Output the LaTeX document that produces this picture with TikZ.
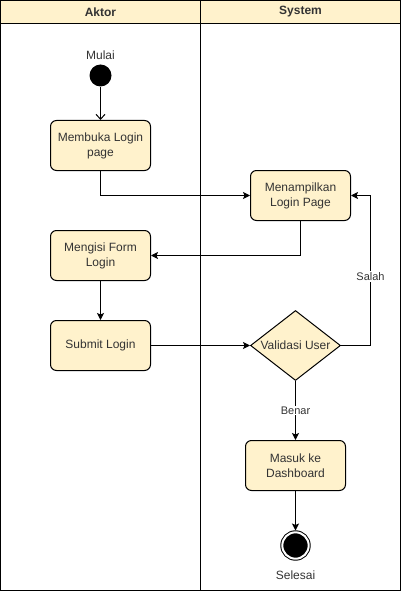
\documentclass[tikz,border=0pt]{standalone}
\usepackage{fontspec}
\setmainfont{Liberation Sans}
\usepackage{tikz}
\usetikzlibrary{arrows.meta,shapes.geometric}
\usepackage{xcolor}
\definecolor{LaneYellow}{HTML}{FFF2CC}
\definecolor{TextGray}{HTML}{333333}

\tikzset{
  lanehead/.style={draw, fill=LaneYellow, minimum width=200pt, minimum height=23pt,
    inner sep=0pt, outer sep=0pt, text=TextGray, font=\fontsize{12}{14}\selectfont\bfseries},
  action/.style={draw, fill=LaneYellow, rounded corners=6pt, minimum width=100pt,
    minimum height=50pt, inner sep=2pt, align=center, text=TextGray,
    font=\fontsize{12}{15}\selectfont},
  decision/.style={diamond, draw, fill=LaneYellow, minimum width=90pt, minimum height=70pt,
    inner sep=0pt},
  startstate/.style={circle, fill=black, minimum size=22pt, inner sep=0pt},
  endstate/.style={circle, draw=black, fill=black, double=white, double distance=2pt,
    minimum size=26.4pt, inner sep=0pt, outer sep=1.8pt},
  flow/.style={-{Stealth[length=7pt,width=7pt,inset=1.5pt]}},
  guard/.style={fill=white, text=TextGray, font=\fontsize{11}{13}\selectfont, inner sep=1pt},
  caption/.style={text=TextGray, font=\fontsize{12}{14}\selectfont},
}

\begin{document}
\begin{tikzpicture}[x=1pt, y=-1pt, line width=1pt]
    \useasboundingbox (-0.5,-0.5) rectangle (400.5,590.5);
    % swimlanes
    \foreach \x/\name/\title in {0/aktor/Aktor,200/system/System} {
     \draw (\x,0) rectangle ++(200,590);
     \node[lanehead] (\name) at (\x+100,11.5) {\title};
    }
    % nodes
    \node[startstate, label={[caption, label distance=1pt]above:Mulai}] (start) at (100,75) {};
    \node[action] (login) at (100,145) {Membuka Login\\page};
    \node[action] (show) at (300,195) {Menampilkan\\Login Page};
    \node[action] (form) at (100,255) {Mengisi Form\\Login};
    \node[action] (submit) at (100,345) {Submit Login};
    \node[decision, label={[caption]center:Validasi User}] (valid) at (295,345) {};
    \node[action] (dash) at (295,465) {Masuk ke\\Dashboard};
    \node[endstate, label={[caption, label distance=6pt]below:Selesai}] (stop) at (295,545) {};
    \coordinate (salahturn) at (370,345);
    % connectors
    \draw[-{Straight Barb[length=5pt,width=9pt]}] (start) -- (login);
    \draw[flow] (login.south) |- (show.west);
    \draw[flow] (show.south) |- (form.east);
    \draw[flow] (form) -- (submit);
    \draw[flow] (submit) -- (valid);
    \draw[flow] (valid.east) -- (salahturn) |- node[guard, pos=0.23] {Salah} (show.east);
    \draw[flow] (valid) -- node[guard] {Benar} (dash);
    \draw[flow] (dash) -- (stop);
   \end{tikzpicture}
\end{document}
